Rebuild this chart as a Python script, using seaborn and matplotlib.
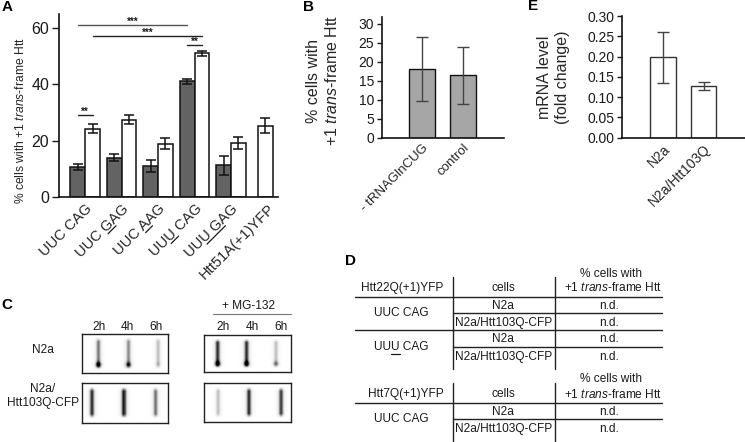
import numpy as np
import pandas as pd
import matplotlib
matplotlib.use('Agg')
import matplotlib.pyplot as plt
import seaborn as sns
from matplotlib import font_manager

# panel A
codons = ['UUC CAG', 'UUC GAG', 'UUC AAG', 'UUU CAG', 'UUU GAG', 'Htt51A(+1)YFP']
underlined = [None, (4, 5), (4, 5), (2, 3), (2, 5), None]
dark_vals = [10.7, 14.0, 11.0, 41.0, 11.3]
dark_err = [1.0, 1.3, 2.1, 1.0, 3.4]
white_vals = [24.3, 27.5, 19.0, 51.0, 19.2, 25.3]
white_err = [1.7, 1.5, 1.8, 0.9, 2.0, 2.7]

# panel B
b_labels = ['- tRNAGlnCUG', 'control']
b_vals = [18.1, 16.5]
b_err = [8.4, 7.5]

# panel E
e_labels = ['N2a', 'N2a/Htt103Q']
e_vals = [0.198, 0.127]
e_err = [0.062, 0.010]

# panel C, band darkness 0-1
blot_top_left = [0.5, 0.45, 0.3]
blot_top_left_spot = [0.7, 0.55, 0.1]
blot_top_right = [0.72, 0.72, 0.3]
blot_top_right_spot = [0.6, 0.6, 0.35]
blot_bot_left = [0.72, 0.78, 0.52]
blot_bot_right = [0.3, 0.72, 0.68]
times = ['2h', '4h', '6h']

# panel D
table_1 = [('N2a', 'n.d.'), ('N2a/Htt103Q-CFP', 'n.d.'), ('N2a', 'n.d.'), ('N2a/Htt103Q-CFP', 'n.d.')]
table_2 = [('N2a', 'n.d.'), ('N2a/Htt103Q-CFP', 'n.d.')]

sns.set_style('ticks')
plt.rcParams['font.family'] = ['Liberation Sans', 'DejaVu Sans']
plt.rcParams['mathtext.fontset'] = 'custom'
plt.rcParams['mathtext.rm'] = 'Liberation Sans'
plt.rcParams['mathtext.it'] = 'Liberation Sans:italic'
plt.rcParams['mathtext.bf'] = 'Liberation Sans:bold'
plt.rcParams['text.color'] = '#1a1a1a'

W, H = 745, 442
fig = plt.figure(figsize=(W / 100, H / 100), dpi=100)


def box(left, top, right, bottom):
    return fig.add_axes([left / W, 1 - bottom / H, (right - left) / W, (bottom - top) / H])


def style_axis(ax, xsize, ysize, ticklen=3.5):
    sns.despine(ax=ax)
    for s in ['left', 'bottom']:
        ax.spines[s].set_linewidth(1.2)
        ax.spines[s].set_color('#111111')
    ax.tick_params(axis='x', length=0, labelsize=xsize, pad=3)
    ax.tick_params(axis='y', length=ticklen, width=1, labelsize=ysize, pad=2, colors='#1a1a1a')
    ax.set_xlabel('')
    plt.setp(ax.get_xticklabels(), rotation=45, ha='right', rotation_mode='anchor')
    ax.patch.set_alpha(0)


# ---- A
ax_a = box(59, 14.3, 278, 197.3)
df_a = pd.DataFrame({
    'codon': codons[:5] + codons,
    'value': dark_vals + white_vals,
    'kind': ['dark'] * 5 + ['white'] * 6,
})
sns.barplot(data=df_a, x='codon', y='value', hue='kind', order=codons, hue_order=['dark', 'white'],
            palette={'dark': '#636363', 'white': 'white'}, width=0.81, errorbar=None, legend=False,
            edgecolor='#111111', linewidth=1.1, ax=ax_a)
# last bar has no partner so it sits almost centred
last = ax_a.patches[-1]
last.set_x(last.get_x() - 0.26)
centers = [p.get_x() + p.get_width() / 2 for p in ax_a.patches]
heights = dark_vals + white_vals
ax_a.errorbar(centers, heights, yerr=dark_err + white_err, fmt='none', ecolor='#111111',
              elinewidth=1.1, capsize=3.3, capthick=1.1)
ax_a.set_xlim(-0.72, 5.29)
ax_a.set_ylim(0, 64.7)
ax_a.set_yticks([0, 20, 40, 60])
ax_a.set_ylabel('% cells with +1 $\\it{trans}$-frame Htt', fontsize=8.7)
ax_a.yaxis.set_label_coords((27 - 59) / 219, 0.417)
style_axis(ax_a, 10.5, 11.5, ticklen=5)

d0, d3 = centers[0], centers[3]
w0, w3 = centers[5], centers[8]
for x1, x2, y, c, stars in [(d0, d3, 61, '#555555', '***'), (w0, w3, 57.2, '#222222', '***'),
                            (d3, w3, 54, '#222222', '**'), (d0, w0, 29.2, '#222222', '**')]:
    ax_a.plot([x1, x2], [y, y], color=c, lw=1)
    ax_a.text((x1 + x2) / 2, y - 0.9, stars, ha='center', va='bottom', fontsize=7, fontweight='bold')

# ---- B
ax = box(382, 16.7, 504, 137.7)
sns.barplot(x=b_labels, y=b_vals, color='#a6a6a6', width=0.62, saturation=1, errorbar=None,
            edgecolor='#111111', linewidth=1, ax=ax)
ax.errorbar(range(2), b_vals, yerr=b_err, fmt='none', ecolor='#444444', elinewidth=1, capsize=4, capthick=1)
ax.set_xlim(-0.976, 2)
ax.set_ylim(0, 31.9)
ax.set_yticks(range(0, 31, 5))
ax.set_ylabel('% cells with\n+1 $\\it{trans}$-frame Htt', fontsize=11.5, linespacing=1.25)
ax.yaxis.set_label_coords((340 - 382) / 122, 0.47)
style_axis(ax, 9.5, 10)

# ---- E
ax = box(622, 16, 745, 137.7)
sns.barplot(x=e_labels, y=e_vals, color='white', width=0.62, errorbar=None,
            edgecolor='#333333', linewidth=1, ax=ax)
ax.errorbar(range(2), e_vals, yerr=e_err, fmt='none', ecolor='#444444', elinewidth=1, capsize=4, capthick=1)
ax.set_xlim(-1.007, 2.01)
ax.set_ylim(0, 0.30)
ax.set_yticks(np.arange(0, 0.31, 0.05))
ax.set_yticklabels([f'{t:.2f}' for t in np.arange(0, 0.31, 0.05)])
ax.set_ylabel('mRNA level\n(fold change)', fontsize=11.5, linespacing=1.25)
ax.yaxis.set_label_coords((570 - 622) / 123, 0.5)
style_axis(ax, 10, 10)


# ---- C
def blot(left, top, right, bottom, strength, spots, xpos):
    ax = box(left, top, right, bottom)
    nx, ny = int(right - left) * 2, int(bottom - top) * 2
    xx, yy = np.meshgrid(np.linspace(0, 1, nx), np.linspace(0, 1, ny))
    img = np.zeros((ny, nx))
    for s, sp, xc in zip(strength, spots, xpos):
        along = np.clip((yy - 0.08) / 0.12, 0, 1) * np.clip((0.9 - yy) / 0.12, 0, 1)
        img += s * np.exp(-((xx - xc) / 0.026) ** 2) * along
        img += 0.18 * s * np.exp(-((xx - xc) / 0.06) ** 2) * along
        img += sp * np.exp(-((xx - xc) / 0.035) ** 2 - ((yy - 0.79) / 0.08) ** 2)
    sns.heatmap(np.clip(img, 0, 1), cmap='Greys', vmin=0, vmax=1, cbar=False,
                xticklabels=False, yticklabels=False, ax=ax, rasterized=True)
    for s in ax.spines.values():
        s.set_visible(True)
        s.set_linewidth(1)
        s.set_color('#222222')


none = [0, 0, 0]
blot(81.7, 333.7, 168.3, 373.3, blot_top_left, blot_top_left_spot, [0.192, 0.538, 0.885])
blot(204, 335.3, 290.7, 372, blot_top_right, blot_top_right_spot, [0.154, 0.492, 0.83])
blot(81.7, 383.3, 168.3, 422.7, blot_bot_left, none, [0.117, 0.488, 0.855])
blot(204, 383.3, 290.7, 422.3, blot_bot_right, none, [0.16, 0.52, 0.89])

# overlay in pixel coordinates for labels and table rules
ov = fig.add_axes([0, 0, 1, 1])
ov.set_xlim(0, W)
ov.set_ylim(H, 0)
ov.axis('off')


def txt(x, y, s, size=8.6, **kw):
    ov.text(x, y, s, fontsize=size, ha=kw.pop('ha', 'center'), va='center', **kw)


def advance(s, size):
    # text width in pixels, plain sum of glyph advances
    font = font_manager.get_font(font_manager.findfont('Liberation Sans'))
    font.set_size(size, 100)
    return sum(font.load_char(ord(c)).linearHoriAdvance / 65536 for c in s)


for x, y, s in [(7, 7, 'A'), (308, 7, 'B'), (7, 305, 'C'), (350, 261, 'D'), (533, 6, 'E')]:
    txt(x, y, s, size=11, fontweight='bold', color='black')

for xs, row in [((99, 127, 156), 327), ((223, 252, 281), 327)]:
    for x, t in zip(xs, times):
        txt(x, row, t)
txt(249, 305.7, '+ MG-132')
ov.plot([213, 291], [314, 314], color='#777777', lw=0.8)
txt(42.7, 350, 'N2a')
txt(42.7, 396, 'N2a/\nHtt103Q-CFP')

# underlines under the changed bases of panel A tick labels
fig.canvas.draw()
ux, uy = np.cos(np.pi / 4), np.sin(np.pi / 4)
for label, span, name in zip(ax_a.get_xticklabels(), underlined, codons):
    if span is None:
        continue
    ax0, ay0 = label.get_transform().transform(label.get_position())
    total = advance(name, 10.5)
    ends = []
    for n in span:
        back = total - advance(name[:n], 10.5)
        ends.append((ax0 - ux * back + uy * 13.2, H - (ay0 - uy * back - ux * 13.2)))
    ov.plot([ends[0][0], ends[1][0]], [ends[0][1], ends[1][1]], color='#1a1a1a', lw=0.9)

# ---- D
for x1, x2, y in [(355, 661.7, 296.7), (453.3, 661.7, 313.3), (355, 661.7, 330.3), (453.3, 661.7, 347),
                  (355, 661.7, 402.7), (453.3, 661.7, 419.3)]:
    ov.plot([x1, x2], [y, y], color='#222222', lw=1)
for x in [453.3, 555.3]:
    ov.plot([x, x], [277.3, 369], color='#222222', lw=1)
    ov.plot([x, x], [383.3, 441.7], color='#222222', lw=1)

hdr = '+1 $\\it{trans}$-frame Htt'
txt(401.7, 287.7, 'Htt22Q(+1)YFP')
txt(503.3, 287.7, 'cells')
txt(611, 274, '% cells with')
txt(612.7, 287.7, hdr)
txt(401.7, 313.3, 'UUC CAG')
txt(401.7, 346.7, 'UUU CAG')
start = 401.7 - advance('UUU CAG', 8.6) / 2
ov.plot([start + advance('UU', 8.6), start + advance('UUU', 8.6)], [353.5, 353.5], color='#1a1a1a', lw=0.9)
for (c, v), y in zip(table_1, [306, 323.3, 339.3, 357.3]):
    txt(503.3, y, c)
    txt(609.3, y, v)

txt(406, 394, 'Htt7Q(+1)YFP')
txt(503.3, 394, 'cells')
txt(611, 379, '% cells with')
txt(612.7, 394, hdr)
txt(401.7, 419, 'UUC CAG')
for (c, v), y in zip(table_2, [411.7, 429.3]):
    txt(503.3, y, c)
    txt(609.3, y, v)

fig.savefig('out.png', dpi=100)
